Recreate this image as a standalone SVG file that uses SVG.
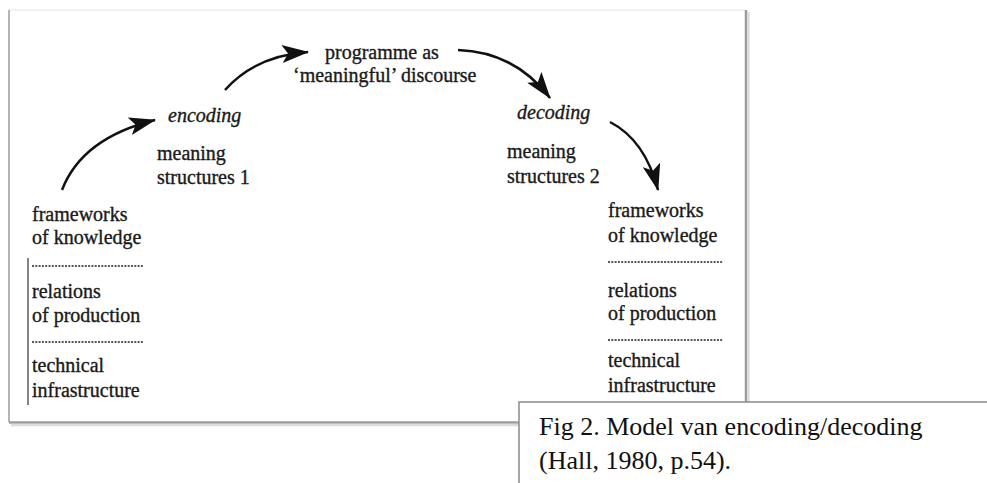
<svg xmlns="http://www.w3.org/2000/svg" width="987" height="483" viewBox="0 0 987 483">
<defs>
<style>
text{font-family:"Liberation Serif","Times New Roman",serif;font-size:20px;fill:#1a1a1a;stroke:#1a1a1a;stroke-width:0.35}
.it{font-style:italic}
.dash{stroke:#222;stroke-width:1.5;stroke-dasharray:2 1.3;fill:none}
.arc{stroke:#111;stroke-width:2.5;fill:none;marker-end:url(#ah)}
.cap{font-size:26px;fill:#111;stroke:none}
</style>
<marker id="ah" markerUnits="userSpaceOnUse" viewBox="0 0 27 18" markerWidth="27" markerHeight="18" refX="26" refY="9" orient="auto">
<path d="M0,0 L27,9 L0,18 L6,9 Z" fill="#111"/>
</marker>
</defs>
<rect width="987" height="483" fill="#fff"/>
<g id="frame">
<rect x="9" y="10" width="736" height="412" fill="#fff"/>
<line x1="9" y1="10" x2="745" y2="10" stroke="#ececec" stroke-width="1.5"/>
<line x1="9" y1="10" x2="9" y2="422" stroke="#b4b4b4" stroke-width="2"/>
<line x1="746" y1="10" x2="746" y2="423" stroke="#9c9c9c" stroke-width="2.5"/>
<line x1="748.5" y1="12" x2="748.5" y2="425" stroke="#dcdcdc" stroke-width="2.5"/>
<line x1="9" y1="422.5" x2="747" y2="422.5" stroke="#9c9c9c" stroke-width="2.5"/>
<line x1="11" y1="425" x2="749" y2="425" stroke="#dcdcdc" stroke-width="2.5"/>
</g>
<g id="connectors">
<path class="arc" d="M62,190 Q82,138 155,120"/>
<path class="arc" d="M225,90 Q255,56 308,52"/>
<path class="arc" d="M458,50 Q515,52 550,98"/>
<path class="arc" d="M610,122 Q645,140 658,190"/>
</g>
<g id="source">
<text x="32" y="221">frameworks</text>
<text x="32" y="244">of knowledge</text>
<line class="dash" x1="32" y1="266" x2="143" y2="266"/>
<text x="32" y="298">relations</text>
<text x="32" y="322">of production</text>
<line class="dash" x1="32" y1="342" x2="143" y2="342"/>
<text x="32" y="372">technical</text>
<text x="32" y="397">infrastructure</text>
<line x1="28" y1="258" x2="28" y2="405" stroke="#444" stroke-width="1.3"/>
</g>
<g id="encoding">
<text class="it" x="168" y="122">encoding</text>
<text x="157" y="160">meaning</text>
<text x="157" y="184">structures 1</text>
</g>
<g id="programme">
<text x="325" y="59">programme as</text>
<text x="293" y="82">‘meaningful’ discourse</text>
</g>
<g id="decoding">
<text class="it" x="517" y="119">decoding</text>
<text x="507" y="158">meaning</text>
<text x="507" y="183">structures 2</text>
</g>
<g id="receiver">
<text x="608" y="217">frameworks</text>
<text x="608" y="242">of knowledge</text>
<line class="dash" x1="608" y1="262" x2="723" y2="262"/>
<text x="608" y="297">relations</text>
<text x="608" y="320">of production</text>
<line class="dash" x1="608" y1="340" x2="723" y2="340"/>
<text x="608" y="367">technical</text>
<text x="608" y="392">infrastructure</text>
</g>
<g id="caption">
<rect x="519" y="402" width="470" height="90" fill="#fff"/>
<path d="M519,483 V402 H987" fill="none" stroke="#8a8a8a" stroke-width="1.5"/>
<text class="cap" x="539" y="435">Fig 2. Model van encoding/decoding</text>
<text class="cap" x="539" y="469">(Hall, 1980, p.54).</text>
</g>
</svg>
